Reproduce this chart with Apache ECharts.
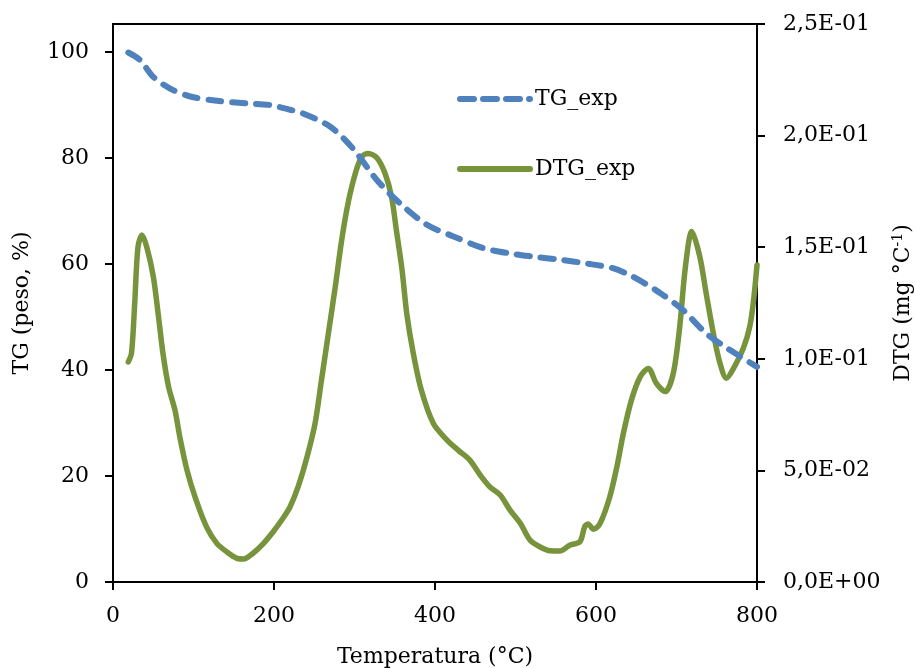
<!DOCTYPE html>
<html>
<head>
<meta charset="utf-8">
<script src="https://cdn.jsdelivr.net/npm/echarts@6/dist/echarts.min.js"></script>
<style>html,body{margin:0;padding:0;background:#fff}#c{width:915px;height:668px}</style>
</head>
<body>
<div id="c"></div>
<script>
// Temperature (°C) and TG (%)
var tgTemp = [19, 33.5, 50, 71, 96, 129, 166, 195, 220, 236, 270, 298, 328, 356, 390, 423, 460, 493, 522, 555, 588, 621, 646, 680, 708, 737, 766, 800];
var tgVals = [99.9, 98.5, 95.3, 93.1, 91.6, 90.8, 90.3, 90.0, 89.1, 88.4, 85.9, 81.8, 75.8, 71.5, 67.4, 65.2, 63.0, 62.0, 61.4, 60.8, 60.1, 59.2, 57.6, 54.5, 51.3, 46.9, 43.8, 40.6];
// Temperature (°C) and DTG (mg °C-1)
var dtgTemp = [19, 23, 27, 31, 36, 42, 50, 56, 62, 69, 77, 83, 92, 102, 116, 129, 141, 154, 162, 174, 187, 199, 212, 220, 230, 241, 251, 259, 267, 276, 284, 292, 301, 309, 317, 328, 338, 346, 352, 359, 365, 373, 383, 398, 415, 429, 443, 456, 468, 481, 493, 506, 518, 530, 543, 555, 568, 580, 586, 590, 597, 605, 617, 626, 634, 644, 655, 665, 675, 686, 696, 704, 711, 719, 729, 737, 746, 754, 762, 772, 783, 791, 796, 800];
var dtgVals = [0.0986, 0.1026, 0.125, 0.150, 0.1555, 0.150, 0.137, 0.1205, 0.1026, 0.0875, 0.077, 0.065, 0.050, 0.038, 0.0248, 0.0173, 0.0136, 0.0106, 0.0103, 0.0129, 0.0173, 0.0225, 0.029, 0.0337, 0.0427, 0.056, 0.071, 0.0905, 0.110, 0.132, 0.153, 0.1697, 0.183, 0.1905, 0.192, 0.190, 0.183, 0.1726, 0.1577, 0.140, 0.120, 0.1025, 0.086, 0.071, 0.0636, 0.059, 0.0547, 0.048, 0.0427, 0.039, 0.0323, 0.0263, 0.0188, 0.0158, 0.014, 0.0139, 0.0166, 0.018, 0.0248, 0.026, 0.0236, 0.0262, 0.038, 0.0517, 0.0666, 0.0815, 0.092, 0.0957, 0.089, 0.0853, 0.0935, 0.1144, 0.141, 0.157, 0.1457, 0.129, 0.111, 0.098, 0.0913, 0.0965, 0.1047, 0.1144, 0.127, 0.142];
var leftTicks = [0, 20, 40, 60, 80, 100];
var xTicks = [0, 200, 400, 600, 800];

function pairs(xs, ys) { return xs.map(function (x, i) { return [x, ys[i]]; }); }
function sci(v) {
  if (v === 0) return '0,0E+00';
  var e = Math.floor(Math.log10(v) + 1e-9);
  var m = v / Math.pow(10, e);
  var es = (e < 0 ? '-' : '+') + (Math.abs(e) < 10 ? '0' : '') + Math.abs(e);
  return m.toFixed(1).replace('.', ',') + 'E' + es;
}

var FONT = 'DejaVu Serif';
var TG_COLOR = '#4F81BD', DTG_COLOR = '#77933C';
var tgLine = { color: TG_COLOR, width: 6, type: [13, 11], cap: 'round', join: 'round' };
var dtgLine = { color: DTG_COLOR, width: 5.5, cap: 'round', join: 'round' };
var chart = echarts.init(document.getElementById('c'), null, { renderer: 'canvas' });
chart.setOption({
  animation: false,
  backgroundColor: '#fff',
  textStyle: { fontFamily: FONT, color: '#000' },
  grid: { left: 113, right: 158, top: 24, bottom: 86, show: true, borderColor: '#000', borderWidth: 2, containLabel: false, outerBoundsMode: 'none' },
  legend: {
    orient: 'vertical', left: 452, top: 83, itemGap: 48, itemWidth: 70, itemHeight: 14,
    data: [
      { name: 'TG_exp', lineStyle: { color: TG_COLOR, width: 6, type: [14, 9], cap: 'round' } },
      { name: 'DTG_exp', lineStyle: { color: DTG_COLOR, width: 6, cap: 'round' } }
    ],
    itemStyle: { opacity: 0 },
    textStyle: { fontFamily: FONT, fontSize: 22, color: '#000' }
  },
  xAxis: {
    type: 'value', min: 0, max: 800, interval: 200,
    name: 'Temperatura (°C)', nameLocation: 'middle', nameGap: 64,
    nameTextStyle: { fontFamily: FONT, fontSize: 22, color: '#000' },
    axisLine: { show: true, lineStyle: { color: '#000', width: 2 } },
    axisTick: { show: true, inside: false, length: 8, lineStyle: { color: '#000', width: 2 }, customValues: xTicks },
    axisLabel: { fontFamily: FONT, fontSize: 22, color: '#000', margin: 23, customValues: xTicks },
    splitLine: { show: false }
  },
  yAxis: [{
    type: 'value', min: 0, max: 105.28, position: 'left',
    name: 'TG (peso, %)', nameLocation: 'middle', nameGap: 80, nameRotate: 90,
    nameTextStyle: { fontFamily: FONT, fontSize: 22, color: '#000' },
    axisLine: { show: true, lineStyle: { color: '#000', width: 2 } },
    axisTick: { show: true, inside: false, length: 8, lineStyle: { color: '#000', width: 2 }, customValues: leftTicks },
    axisLabel: { fontFamily: FONT, fontSize: 22, color: '#000', margin: 24, customValues: leftTicks },
    splitLine: { show: false }
  }, {
    type: 'value', min: 0, max: 0.25, interval: 0.05, position: 'right',
    name: 'DTG (mg °C{sup|-1})', nameLocation: 'middle', nameGap: 134, nameRotate: 90,
    nameTextStyle: { fontFamily: FONT, fontSize: 22, color: '#000',
      rich: { sup: { fontFamily: FONT, fontSize: 14, color: '#000', verticalAlign: 'top', padding: [0, 0, 10, 0] } } },
    axisLine: { show: true, lineStyle: { color: '#000', width: 2 } },
    axisTick: { show: true, inside: false, length: 8, lineStyle: { color: '#000', width: 2 } },
    axisLabel: { fontFamily: FONT, fontSize: 22, color: '#000', margin: 26, formatter: function (v) { return sci(v); } },
    splitLine: { show: false }
  }],
  series: [{
    name: 'DTG_exp', type: 'line', yAxisIndex: 1, data: pairs(dtgTemp, dtgVals),
    showSymbol: false, symbol: 'none', smooth: 0.3,
    lineStyle: dtgLine,
    itemStyle: { color: DTG_COLOR }
  }, {
    name: 'TG_exp', type: 'line', yAxisIndex: 0, data: pairs(tgTemp, tgVals),
    showSymbol: false, symbol: 'none', smooth: 0.3,
    lineStyle: tgLine,
    itemStyle: { color: TG_COLOR }
  }]
});
</script>
</body>
</html>
